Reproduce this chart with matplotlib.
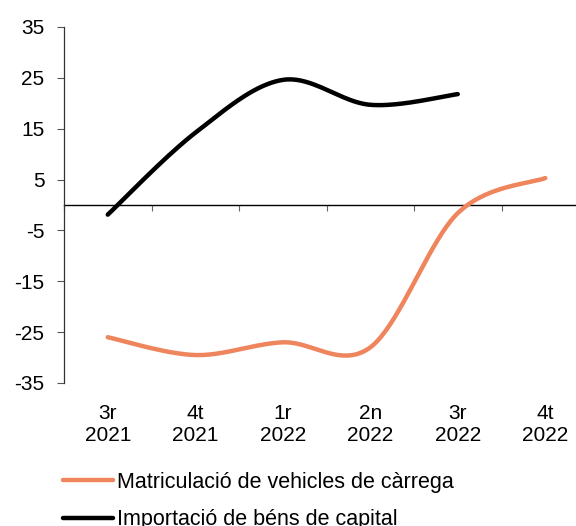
import numpy as np
import matplotlib
matplotlib.use("Agg")
import matplotlib.pyplot as plt

categories = ["3r\n2021", "4t\n2021", "1r\n2022", "2n\n2022", "3r\n2022", "4t\n2022"]
matriculacio = [-26.0, -29.5, -27.0, -28.0, -1.6, 5.3]
importacio = [-1.9, 14.2, 24.6, 19.7, 21.8]
series_names = ["Matriculació de vehicles de càrrega", "Importació de béns de capital"]
y_ticks = [-35, -25, -15, -5, 5, 15, 25, 35]

ORANGE = "#EF855D"
BLACK = "#000000"
FS = 15

plt.rcParams["font.family"] = ["Liberation Sans", "DejaVu Sans"]


def smooth(xs, ys, n=40):
    """Excel-style smoothed line (Catmull-Rom Bezier through the points)."""
    P = np.column_stack([xs, ys]).astype(float)
    if len(P) < 3:
        return P[:, 0], P[:, 1]
    ext = np.vstack([P[0], P, P[-1]])
    out = []
    t = np.linspace(0, 1, n)[:, None]
    for i in range(1, len(ext) - 2):
        p0, p1, p2, p3 = ext[i - 1], ext[i], ext[i + 1], ext[i + 2]
        c1 = p1 + (p2 - p0) / 6.0
        c2 = p2 - (p3 - p1) / 6.0
        seg = ((1 - t) ** 3) * p1 + 3 * ((1 - t) ** 2) * t * c1 + 3 * (1 - t) * t ** 2 * c2 + t ** 3 * p2
        out.append(seg if i == 1 else seg[1:])
    out = np.vstack(out)
    return out[:, 0], out[:, 1]


fig = plt.figure(figsize=(5.76, 5.26), dpi=100)
ax = fig.add_axes([64 / 576, 1 - 383 / 526, 525 / 576, 356 / 526])

x1 = np.arange(len(matriculacio))
x2 = np.arange(len(importacio))
sx, sy = smooth(x1, matriculacio)
ax.plot(sx, sy, color=ORANGE, lw=3.2, solid_capstyle="round", label=series_names[0])
sx, sy = smooth(x2, importacio)
ax.plot(sx, sy, color=BLACK, lw=3.2, solid_capstyle="round", label=series_names[1])

ax.set_xlim(-0.5, len(categories) - 0.5)
ax.set_ylim(-35, 35)
ax.set_yticks(y_ticks)
ax.set_yticklabels([str(v) for v in y_ticks])
ax.tick_params(axis="y", direction="out", length=5, width=0.8, color="#555555",
               labelsize=FS, pad=9)

for s in ["top", "right", "bottom"]:
    ax.spines[s].set_visible(False)
ax.spines["left"].set_color("#333333")
ax.spines["left"].set_linewidth(0.9)

ax.set_xticks(x1)
ax.set_xticklabels(categories, fontsize=FS, linespacing=1.2)
ax.tick_params(axis="x", length=0, pad=15)

# zero line acting as category axis
zero_frac = (0 - (-35)) / 70
sec = ax.secondary_xaxis(zero_frac)
sec.spines["bottom"].set_visible(False)
sec.spines["top"].set_color("black")
sec.spines["top"].set_linewidth(1.0)
sec.set_xticks(np.arange(-0.5, len(categories) + 0.5, 1.0))
sec.set_xticklabels([])
sec.xaxis.set_ticks_position("top")
sec.tick_params(axis="x", direction="in", length=4.5, width=0.8, color="#666666",
                labeltop=False, labelbottom=False)

fig.legend(loc="upper left", bbox_to_anchor=(63 / 576, 1 - 472 / 526),
           frameon=False, fontsize=15.5, handlelength=2.32, handletextpad=0.19,
           labelspacing=0.75, borderpad=0, borderaxespad=0)

fig.savefig("out.png", dpi=100)
